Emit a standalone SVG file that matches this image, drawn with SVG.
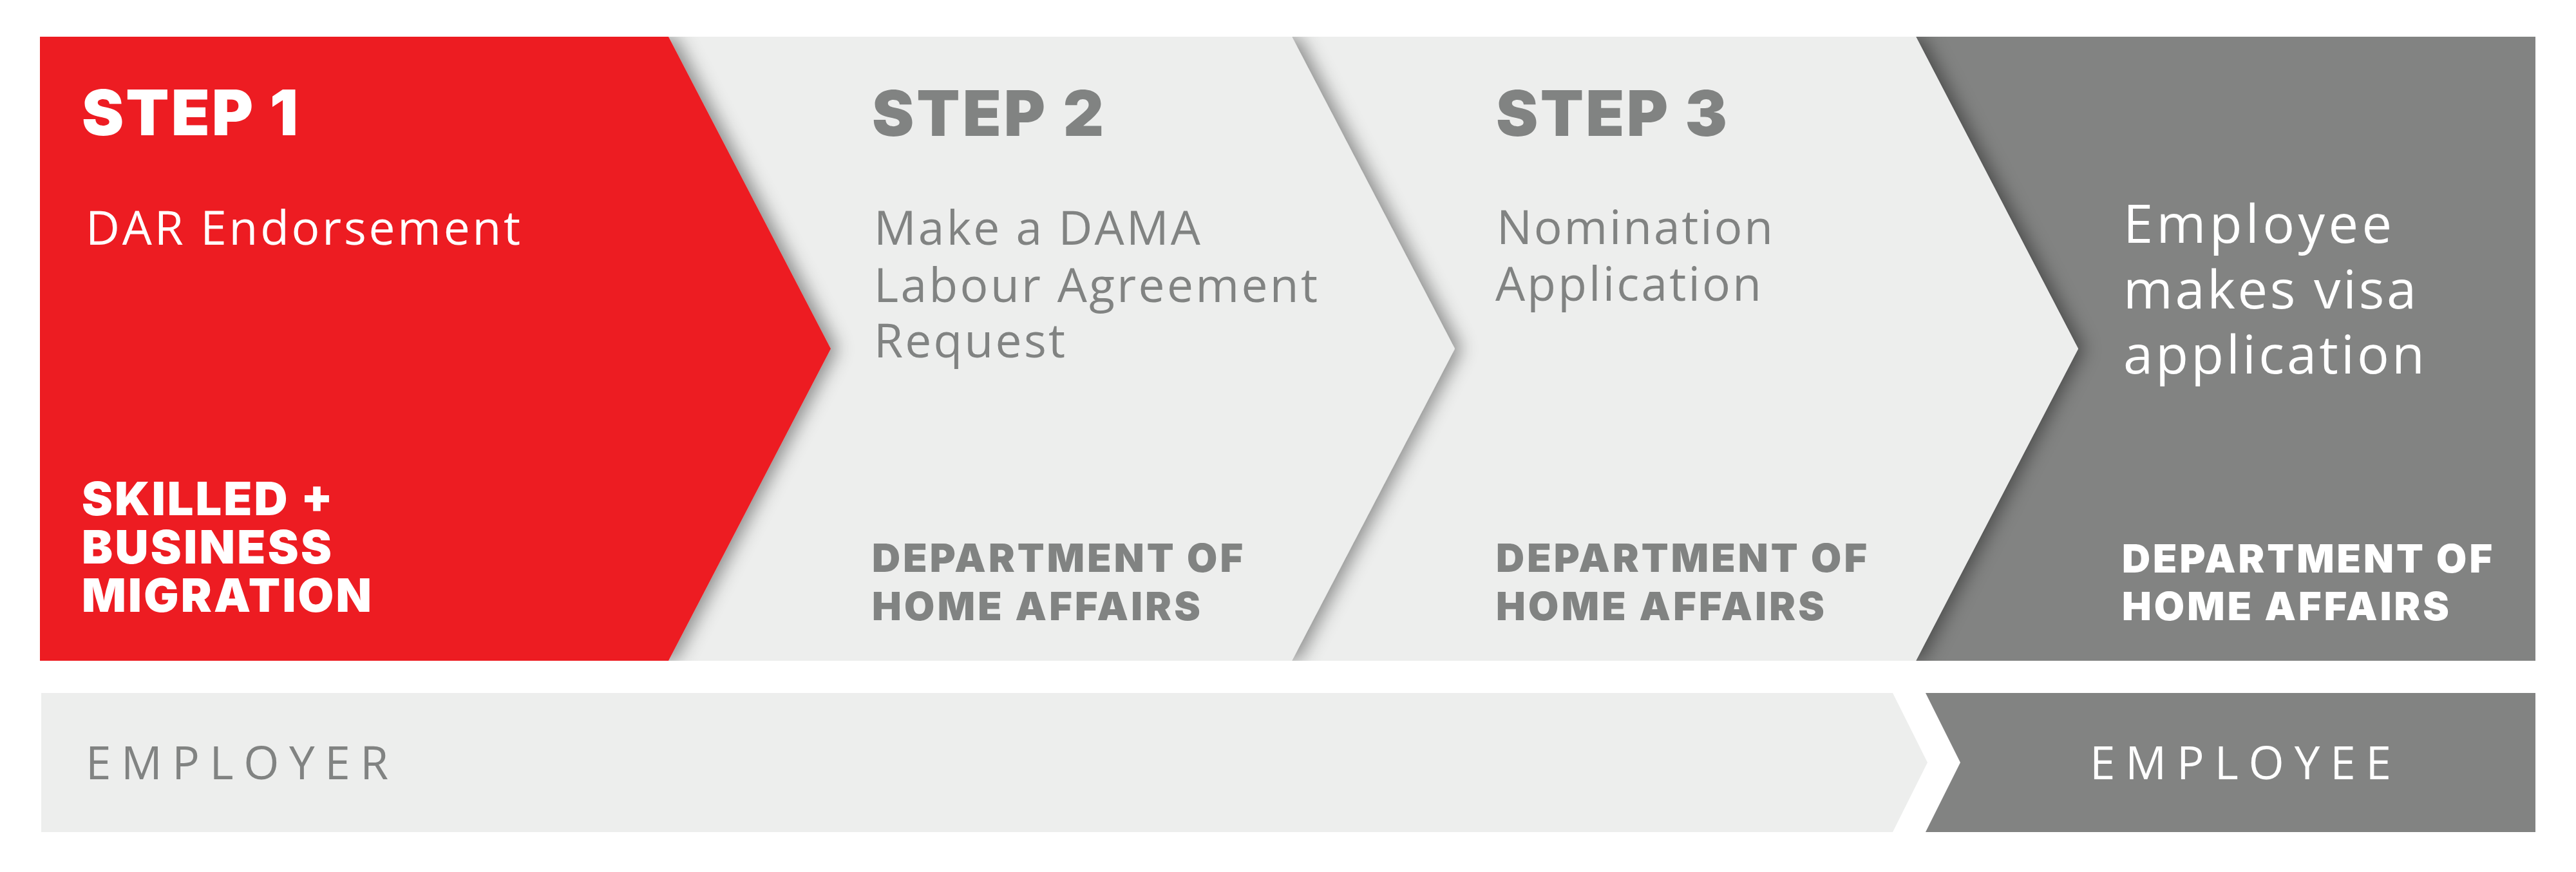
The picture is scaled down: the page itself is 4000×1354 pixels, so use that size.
<svg xmlns="http://www.w3.org/2000/svg" width="4000" height="1354" viewBox="0 0 4000 1354">
  <defs>
    <filter id="shadow" x="-10%" y="-10%" width="130%" height="120%">
      <feDropShadow dx="10" dy="0" stdDeviation="14" flood-color="#000000" flood-opacity="0.42"/>
    </filter>
    <clipPath id="band">
      <rect x="62" y="57" width="3875" height="969"/>
    </clipPath>
  </defs>
  <style>
    .red { fill: #ED1C24; }
    .light { fill: #EDEEED; }
    .dark { fill: #828382; }
    .step { font-family: Inter, "Open Sans", "Liberation Sans", sans-serif; font-weight: 900; font-size: 98px; }
    .body { font-family: "Open Sans", Lato, "Liberation Sans", sans-serif; font-weight: 400; font-size: 73px; }
    .big { font-family: "Open Sans", Lato, "Liberation Sans", sans-serif; font-weight: 400; font-size: 83px; }
    .org { font-family: Inter, "Open Sans", "Liberation Sans", sans-serif; font-weight: 900; font-size: 72px; }
    .dept { font-family: Inter, "Open Sans", "Liberation Sans", sans-serif; font-weight: 900; font-size: 61px; }
    .role { font-family: "Open Sans", Lato, "Liberation Sans", sans-serif; font-weight: 400; font-size: 71px; }
    .w { fill: #FFFFFF; }
    .g { fill: #818382; }
  </style>
  <rect width="4000" height="1354" fill="#FFFFFF"/>

  <g clip-path="url(#band)">
    <g id="employee-visa">
      <polygon class="dark" points="2975,57 3937,57 3937,1026 2975,1026 3227,541.5"/>
      <text class="big w" x="3297" y="377" textLength="417" lengthAdjust="spacing">Employee</text>
      <text class="big w" x="3297" y="479" textLength="455" lengthAdjust="spacing">makes visa</text>
      <text class="big w" x="3297" y="580" textLength="468" lengthAdjust="spacing">application</text>
      <text class="dept w" x="3295" y="889" textLength="575" lengthAdjust="spacing">DEPARTMENT OF</text>
      <text class="dept w" x="3295" y="963" textLength="508" lengthAdjust="spacing">HOME AFFAIRS</text>
    </g>
    <g id="step3">
      <polygon class="light" filter="url(#shadow)" points="2006,57 2975,57 3227,541.5 2975,1026 2006,1026 2259,541.5"/>
      <text class="step g" x="2323" y="211" textLength="359" lengthAdjust="spacing">STEP 3</text>
      <text class="body g" x="2324" y="379" textLength="429" lengthAdjust="spacing">Nomination</text>
      <text class="body g" x="2322" y="467" textLength="413" lengthAdjust="spacing">Application</text>
      <text class="dept g" x="2323" y="888" textLength="576" lengthAdjust="spacing">DEPARTMENT OF</text>
      <text class="dept g" x="2323" y="963" textLength="510" lengthAdjust="spacing">HOME AFFAIRS</text>
    </g>
    <g id="step2">
      <polygon class="light" filter="url(#shadow)" points="1038,57 2006,57 2259,541.5 2006,1026 1038,1026 1290,541.5"/>
      <text class="step g" x="1354" y="211" textLength="360" lengthAdjust="spacing">STEP 2</text>
      <text class="body g" x="1357" y="380" textLength="507" lengthAdjust="spacing">Make a DAMA</text>
      <text class="body g" x="1357" y="469" textLength="689" lengthAdjust="spacing">Labour Agreement</text>
      <text class="body g" x="1357" y="555" textLength="297" lengthAdjust="spacing">Request</text>
      <text class="dept g" x="1354" y="888" textLength="576" lengthAdjust="spacing">DEPARTMENT OF</text>
      <text class="dept g" x="1354" y="963" textLength="510" lengthAdjust="spacing">HOME AFFAIRS</text>
    </g>
    <g id="step1">
      <polygon class="red" filter="url(#shadow)" points="62,57 1038,57 1290,541.5 1038,1026 62,1026"/>
      <text class="step w" x="127" y="210" textLength="336" lengthAdjust="spacing">STEP 1</text>
      <text class="body w" x="133" y="380" textLength="675" lengthAdjust="spacing">DAR Endorsement</text>
      <text class="org w" x="127" y="800" textLength="390" lengthAdjust="spacing">SKILLED +</text>
      <text class="org w" x="127" y="875" textLength="388" lengthAdjust="spacing">BUSINESS</text>
      <text class="org w" x="127" y="950" textLength="450" lengthAdjust="spacing">MIGRATION</text>
    </g>
  </g>

  <g id="employer-bar">
    <polygon class="light" points="64,1076 2939,1076 2993,1184 2939,1292 64,1292"/>
    <text class="role g" x="133" y="1210" textLength="470" lengthAdjust="spacing">EMPLOYER</text>
  </g>
  <g id="employee-bar">
    <polygon class="dark" points="2990,1076 3937,1076 3937,1292 2990,1292 3044,1184"/>
    <text class="role w" x="3245" y="1210" textLength="468" lengthAdjust="spacing">EMPLOYEE</text>
  </g>
</svg>
